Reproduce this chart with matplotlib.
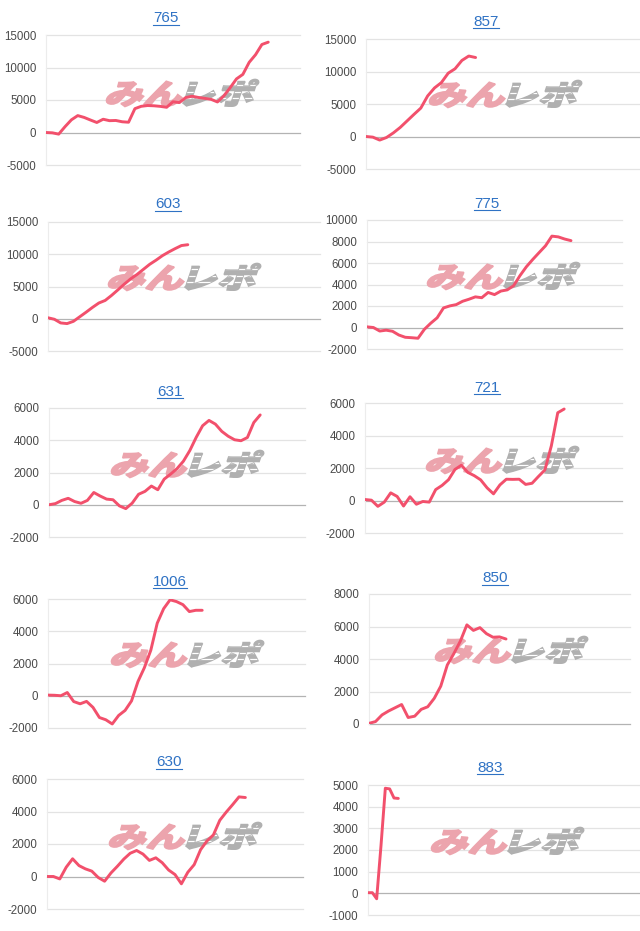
import numpy as np
import matplotlib
matplotlib.use('Agg')
import matplotlib.pyplot as plt
from matplotlib.font_manager import FontProperties
from matplotlib.textpath import TextPath
from matplotlib.patches import PathPatch
from matplotlib.transforms import Affine2D
from matplotlib.lines import Line2D

plt.rcParams['font.family'] = ['Liberation Sans', 'DejaVu Sans']

# ── data ──
titles = ['765', '857', '603', '775', '631', '721', '1006', '850', '630', '883']

vals_765 = [0, -50, -250, 900, 1950, 2600, 2320, 1920, 1540, 2040, 1820, 1850,
            1650, 1580, 3670, 4030, 4150, 4110, 4020, 3880, 4730, 4600, 5370,
            5580, 5390, 5250, 5100, 4700, 5620, 6890, 8250, 8940, 10800, 11970,
            13540, 13900]
vals_857 = [0, -100, -550, -150, 560, 1400, 2400, 3400, 4370, 6240, 7470, 8290,
            9740, 10420, 11700, 12380, 12150]
vals_603 = [150, -80, -650, -750, -400, 310, 1020, 1760, 2440, 2840, 3620, 4480,
            5360, 6180, 6860, 7650, 8440, 9080, 9780, 10350, 10870, 11350, 11480]
vals_775 = [60, 0, -330, -250, -350, -700, -910, -950, -1000, -170, 400, 900,
            1820, 2010, 2130, 2440, 2630, 2850, 2770, 3260, 3060, 3390, 3500,
            3890, 4830, 5650, 6330, 6970, 7600, 8500, 8430, 8230, 8080]
vals_631 = [0, 70, 270, 400, 200, 90, 270, 760, 540, 350, 310, -70, -240, 100,
            650, 830, 1160, 930, 1590, 1900, 2240, 2700, 3360, 4180, 4900, 5230,
            5000, 4550, 4250, 4030, 3970, 4170, 5100, 5570]
vals_721 = [60, 20, -360, -100, 470, 250, -340, 230, -230, -60, -100, 670, 930,
            1280, 1910, 2170, 1730, 1530, 1270, 780, 410, 960, 1310, 1300, 1310,
            990, 1060, 1480, 1880, 3360, 5400, 5630]
vals_1006 = [40, 30, 0, 200, -360, -500, -350, -720, -1350, -1490, -1750, -1220,
             -910, -320, 880, 1740, 2820, 4500, 5400, 5950, 5840, 5650, 5220,
             5300, 5300]
vals_850 = [40, 150, 560, 800, 1000, 1200, 400, 480, 900, 1060, 1580, 2330, 3630,
            4330, 5100, 6100, 5760, 5930, 5560, 5340, 5360, 5230]
vals_630 = [0, 0, -150, 570, 1090, 670, 470, 330, -60, -290, 220, 630, 1070,
            1430, 1600, 1380, 990, 1150, 850, 400, 120, -450, 260, 730, 1650,
            2190, 2560, 3460, 3960, 4420, 4900, 4860]
vals_883 = [30, 30, -250, 2200, 4850, 4820, 4400, 4380]

series = [vals_765, vals_857, vals_603, vals_775, vals_631,
          vals_721, vals_1006, vals_850, vals_630, vals_883]

# y tick ranges (min, max, step) and x span per chart
y_ranges = [(-5000, 15000, 5000), (-5000, 15000, 5000), (-5000, 15000, 5000),
            (-2000, 10000, 2000), (-2000, 6000, 2000), (-2000, 6000, 2000),
            (-2000, 6000, 2000), (0, 8000, 2000), (-2000, 6000, 2000),
            (-1000, 5000, 1000)]
x_spans = [40, 40, 42.8, 40, 40, 40, 40, 40, 40, 62.8]

# ── layout (pixels) ──
W, H = 640, 931
# left, right, top, bottom of each plot area
boxes = [(46, 300, 35, 165), (366, 640, 39, 169),
         (48, 320, 222, 351), (367, 622, 220, 349),
         (49, 305, 408, 537), (365, 622, 403, 533),
         (48, 305, 599, 728), (369, 630, 594, 724),
         (47, 303, 779, 909), (368, 640, 785, 915)]
title_xy = [(166, 17), (486, 20), (168, 203), (487, 202), (170, 390),
            (487, 386), (170, 580), (495, 577), (169, 761), (490, 766)]
logo_xy = [(182, 93), (505, 94), (184, 277), (503, 276), (187, 464),
           (502, 460), (187, 654), (511, 650), (185, 836), (507, 841)]

LINE = '#f2506c'
GRID = '#e3e3e3'
BASE = '#b3b3b3'
TICK = '#4a4a4a'
LINK = '#2f72c4'
PINK = '#eca4ad'
GREY = '#b0b0b0'

LOGO_FP = FontProperties(family='Noto Sans CJK JP', weight='heavy')
pa = TextPath((0, 0), 'みん', size=1, prop=LOGO_FP)
pb = TextPath((0, 0), 'レポ', size=1, prop=LOGO_FP)
ea, eb = pa.get_extents(), pb.get_extents()


def add_logo(fig, ax, cx, cy):
    gap = 0.08
    total = ea.width + gap + eb.width
    y0 = min(ea.y0, eb.y0)
    y1 = max(ea.y1, eb.y1)
    ymid = (y0 + y1) / 2
    sx, sy = 158 / (total * 1.08) / 100, 27 / (y1 - y0) / 100
    for path, ext, off, col in [(pa, ea, 0, PINK), (pb, eb, ea.width + gap, GREY)]:
        tr = (Affine2D().translate(-ext.x0 + off - total / 2, -ymid)
              .skew_deg(14, 0).scale(sx, sy)
              .translate(cx / 100, (H - cy) / 100) + fig.dpi_scale_trans)
        patch = PathPatch(path, transform=tr, facecolor=col, edgecolor=col,
                          lw=1.2, zorder=1.5, clip_on=False)
        ax.add_artist(patch)
        if col == GREY:
            # speed stripes through the grey half
            for f in (0.3, 0.55, 0.8):
                yy = y0 + f * (y1 - y0) - ymid
                ln = Line2D([-total, total], [yy, yy], color='white', lw=0.9,
                            transform=Affine2D().scale(sx, sy)
                            .translate(cx / 100, (H - cy) / 100) + fig.dpi_scale_trans,
                            zorder=1.6)
                ln.set_clip_path(patch.get_path(), patch.get_transform())
                ax.add_artist(ln)


fig = plt.figure(figsize=(W / 100, H / 100), dpi=100)
fig.patch.set_facecolor('white')

title_texts = []
for k in range(10):
    l, r, t, b = boxes[k]
    ax = fig.add_axes([l / W, 1 - b / H, (r - l) / W, (b - t) / H])
    ax.set_facecolor('none')
    lo, hi, st = y_ranges[k]
    ticks = np.arange(lo, hi + st, st)
    ax.set_ylim(lo, hi)
    ax.set_xlim(0, x_spans[k])
    ax.set_yticks(ticks)
    ax.set_yticklabels([str(int(v)) for v in ticks])
    ax.set_xticks([])
    ax.tick_params(axis='y', length=0, pad=7, labelsize=8.3, labelcolor=TICK)
    for v in ticks:
        ax.axhline(v, color=BASE if v == 0 else GRID, lw=0.9, zorder=1,
                   clip_on=False)
    for sp in ['top', 'right', 'bottom']:
        ax.spines[sp].set_visible(False)
    ax.spines['left'].set_color('#ececec')
    ax.spines['left'].set_linewidth(0.8)

    y = series[k]
    ax.plot(np.arange(len(y)), y, color=LINE, lw=2.1, zorder=3,
            solid_joinstyle='round', solid_capstyle='round')
    add_logo(fig, ax, *logo_xy[k])

    tx, ty = title_xy[k]
    tt = fig.text(tx / W, 1 - (ty + 5.5) / H, titles[k], ha='center',
                  va='baseline', fontsize=11, color=LINK)
    title_texts.append(tt)

# underline the titles (they look like links)
fig.canvas.draw()
rend = fig.canvas.get_renderer()
for k, tt in enumerate(title_texts):
    bb = tt.get_window_extent(rend)
    yb = 1 - (title_xy[k][1] + 8) / H
    fig.add_artist(Line2D([bb.x0 / W, bb.x1 / W], [yb, yb], color=LINK,
                          lw=0.8, transform=fig.transFigure))

fig.savefig('out.png', dpi=100, facecolor='white')
plt.close()
